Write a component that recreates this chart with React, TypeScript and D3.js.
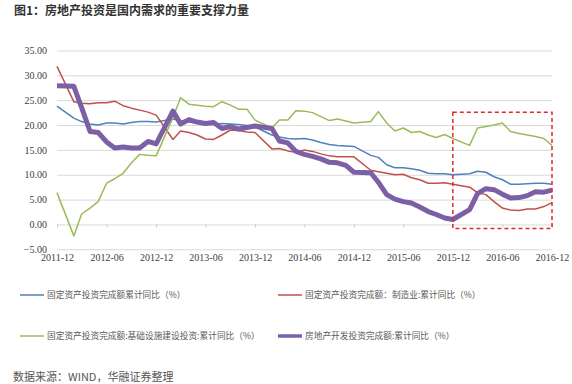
import { useEffect, useRef } from 'react';
import * as d3 from 'd3';

// months on the chart (Jan is folded into Feb in the source data)
const periods = [
  '2011-12',
  '2012-02', '2012-03', '2012-04', '2012-05', '2012-06', '2012-07', '2012-08', '2012-09', '2012-10', '2012-11', '2012-12',
  '2013-02', '2013-03', '2013-04', '2013-05', '2013-06', '2013-07', '2013-08', '2013-09', '2013-10', '2013-11', '2013-12',
  '2014-02', '2014-03', '2014-04', '2014-05', '2014-06', '2014-07', '2014-08', '2014-09', '2014-10', '2014-11', '2014-12',
  '2015-02', '2015-03', '2015-04', '2015-05', '2015-06', '2015-07', '2015-08', '2015-09', '2015-10', '2015-11', '2015-12',
  '2016-02', '2016-03', '2016-04', '2016-05', '2016-06', '2016-07', '2016-08', '2016-09', '2016-10', '2016-11', '2016-12',
];

const fixedAsset = [
  23.8,
  21.4, 20.7, 20.2, 20.0, 20.4, 20.4, 20.2, 20.5, 20.7, 20.7, 20.6,
  21.2, 20.9, 20.6, 20.4, 20.1, 20.1, 20.3, 20.2, 20.1, 19.9, 19.6,
  18.0, 17.6, 17.3, 17.2, 17.3, 17.0, 16.5, 16.1, 15.9, 15.8, 15.7,
  13.9, 13.5, 12.0, 11.4, 11.4, 11.2, 10.9, 10.3, 10.2, 10.2, 10.0,
  10.2, 10.7, 10.5, 9.6, 9.0, 8.1, 8.1, 8.2, 8.3, 8.3, 8.1,
];

const manufacturing = [
  31.8,
  24.7, 24.4, 24.3, 24.5, 24.5, 24.8, 23.9, 23.4, 23.0, 22.6, 22.0,
  17.1, 18.8, 18.5, 18.0, 17.2, 17.1, 18.0, 19.0, 18.9, 18.6, 18.5,
  15.2, 15.3, 14.8, 14.5, 15.0, 14.7, 14.2, 13.8, 13.6, 13.6, 13.6,
  10.9, 10.6, 10.3, 10.0, 10.1, 9.4, 9.0, 8.3, 8.3, 8.4, 8.1,
  7.5, 6.4, 6.0, 4.6, 3.3, 2.9, 2.8, 3.1, 3.1, 3.6, 4.4,
];

const infrastructure = [
  6.4,
  -2.3, 2.1, 3.3, 4.6, 8.3, 9.2, 10.3, 12.4, 14.1, 13.9, 13.8,
  21.5, 25.5, 24.2, 24.0, 23.8, 23.7, 24.7, 24.0, 23.2, 23.2, 21.0,
  19.4, 21.0, 21.0, 22.9, 22.8, 22.5, 21.7, 20.9, 21.2, 20.8, 20.4,
  20.7, 22.7, 20.4, 18.8, 19.4, 18.5, 18.7, 18.0, 17.5, 18.1, 17.3,
  15.9, 19.4, 19.7, 20.0, 20.4, 18.7, 18.3, 18.0, 17.7, 17.3, 15.9,
];

const realEstate = [
  27.9,
  27.8, 23.5, 18.7, 18.5, 16.6, 15.4, 15.6, 15.4, 15.4, 16.7, 16.2,
  22.8, 20.2, 21.1, 20.6, 20.3, 20.5, 19.3, 19.7, 19.2, 19.5, 19.8,
  19.3, 16.8, 16.4, 14.7, 14.1, 13.7, 13.2, 12.5, 12.4, 11.9, 10.5,
  10.4, 8.5, 6.0, 5.1, 4.6, 4.3, 3.5, 2.6, 2.0, 1.3, 1.0,
  3.0, 6.2, 7.2, 7.0, 6.1, 5.3, 5.4, 5.8, 6.6, 6.5, 6.9,
];

const xTicks = ['2011-12', '2012-06', '2012-12', '2013-06', '2013-12', '2014-06', '2014-12', '2015-06', '2015-12', '2016-06', '2016-12'];
const yTicks = [-5, 0, 5, 10, 15, 20, 25, 30, 35];

// highlighted window
const boxFrom = '2015-12';
const boxTo = '2016-12';
const boxLow = -0.8;
const boxHigh = 22.6;

const series = [
  { name: '固定资产投资完成额累计同比（%）', values: fixedAsset, color: '#4f81bd', width: 1.5 },
  { name: '固定资产投资完成额：制造业:累计同比（%）', values: manufacturing, color: '#c0504d', width: 1.5 },
  { name: '固定资产投资完成额:基础设施建设投资:累计同比（%）', values: infrastructure, color: '#9bbb59', width: 1.5 },
  { name: '房地产开发投资完成额:累计同比（%）', values: realEstate, color: '#7b60a6', width: 5 },
];

const parse = d3.utcParse('%Y-%m');
const cjk = '"Noto Sans CJK SC", "Noto Sans", sans-serif';
const serif = '"Liberation Serif", "DejaVu Serif", serif';

export default function App() {
  const svgRef = useRef<SVGSVGElement>(null);
  const W = 572;
  const H = 384;

  useEffect(() => {
    if (!svgRef.current) return;
    const svg = d3.select(svgRef.current);
    svg.selectAll('*').remove();

    const left = 57, right = 552, top = 50.5, bottom = 249.3;

    const x = d3.scaleUtc()
      .domain([parse('2011-12')!, parse('2016-12')!])
      .range([left, right]);

    const y = d3.scaleLinear()
      .domain([-5, 35])
      .range([bottom, top]);

    svg.append('rect').attr('width', W).attr('height', H).attr('fill', '#fff');

    // title
    svg.append('text')
      .attr('x', 14)
      .attr('y', 15)
      .style('font-family', cjk)
      .style('font-size', '12px')
      .style('font-weight', 'bold')
      .style('fill', '#333')
      .text('图1：房地产投资是国内需求的重要支撑力量');

    // gridlines + y labels
    const yAxis = svg.append('g')
      .attr('transform', `translate(${left},0)`)
      .call(d3.axisLeft(y)
        .tickValues(yTicks)
        .tickSize(-(right - left))
        .tickPadding(10)
        .tickFormat(d3.format('.2f')));
    yAxis.select('.domain').remove();
    yAxis.selectAll('line').attr('stroke', '#d9d9d9');
    yAxis.selectAll('text')
      .style('font-family', serif)
      .style('font-size', '10px')
      .style('fill', '#404040');

    // small ticks on the zero line
    const zeroAxis = svg.append('g')
      .attr('transform', `translate(0,${y(0)})`)
      .call(d3.axisBottom(x)
        .tickValues(xTicks.map(t => parse(t)!))
        .tickSize(3)
        .tickFormat(() => ''));
    zeroAxis.select('.domain').remove();
    zeroAxis.selectAll('line').attr('stroke', '#c8c8c8');

    // x labels along the bottom
    const xAxis = svg.append('g')
      .attr('transform', `translate(0,${bottom})`)
      .call(d3.axisBottom(x)
        .tickValues(xTicks.map(t => parse(t)!))
        .tickSize(0)
        .tickPadding(5)
        .tickFormat(d => d3.utcFormat('%Y-%m')(d as Date)));
    xAxis.select('.domain').remove();
    xAxis.selectAll('text')
      .style('font-family', serif)
      .style('font-size', '10px')
      .style('fill', '#404040');

    const line = d3.line<number>()
      .x((_, i) => x(parse(periods[i])!))
      .y(d => y(d));

    series.forEach(s => {
      svg.append('path')
        .datum(s.values)
        .attr('fill', 'none')
        .attr('stroke', s.color)
        .attr('stroke-width', s.width)
        .attr('stroke-linejoin', 'round')
        .attr('d', line);
    });

    // red dashed box
    svg.append('rect')
      .attr('x', x(parse(boxFrom)!))
      .attr('y', y(boxHigh))
      .attr('width', x(parse(boxTo)!) - x(parse(boxFrom)!))
      .attr('height', y(boxLow) - y(boxHigh))
      .attr('fill', 'none')
      .attr('stroke', '#e02a2a')
      .attr('stroke-width', 1.5)
      .attr('stroke-dasharray', '4,3');

    // legend
    const legendPos = [[20, 295], [278, 295], [20, 336], [278, 336]];
    series.forEach((s, i) => {
      const [lx, ly] = legendPos[i];
      const row = svg.append('g').attr('transform', `translate(${lx},${ly})`);
      row.append('line')
        .attr('x1', 0).attr('x2', 24)
        .attr('y1', 0).attr('y2', 0)
        .attr('stroke', s.color)
        .attr('stroke-width', s.width > 2 ? 3.5 : 1.5);
      row.append('text')
        .attr('x', 27)
        .attr('y', 3.2)
        .style('font-family', cjk)
        .style('font-size', '8.7px')
        .style('fill', '#595959')
        .text(s.name);
    });

    // source
    svg.append('text')
      .attr('x', 13)
      .attr('y', 381)
      .style('font-family', cjk)
      .style('font-size', '11px')
      .style('fill', '#555')
      .text('数据来源：WIND，华融证券整理');
  }, []);

  return (
    <svg
      ref={svgRef}
      width={W}
      height={H}
      style={{ position: 'absolute', left: 0, top: 0, display: 'block' }}
    />
  );
}
